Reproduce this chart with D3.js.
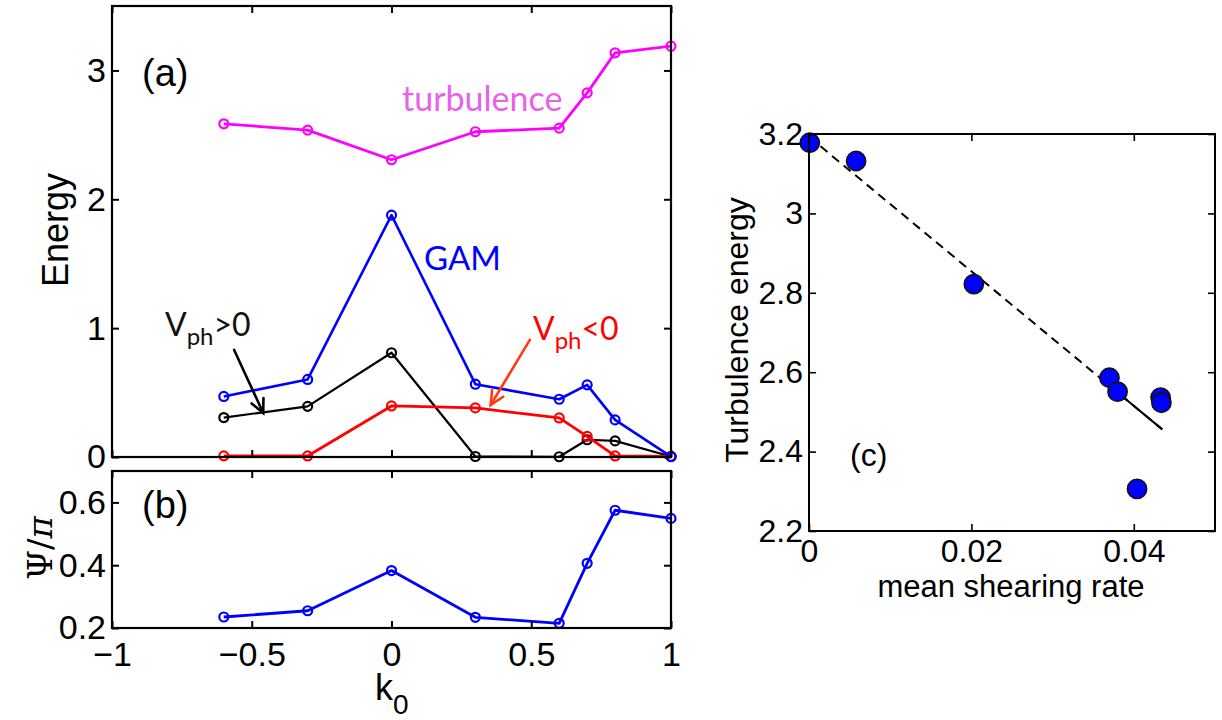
<!DOCTYPE html>
<html>
<head>
<meta charset="utf-8">
<script src="https://cdn.jsdelivr.net/npm/d3@7"></script>
<style>
  html, body { margin: 0; padding: 0; background: #fff; }
  svg { display: block; }
  text { font-family: "Liberation Sans", Arial, sans-serif; }
</style>
</head>
<body>
<svg id="chart" width="1222" height="720"></svg>
<script>
// ---------------- data ----------------
const kVals      = [-0.6, -0.3, 0, 0.3, 0.6, 0.7, 0.8, 1];
const turbulence = [2.586, 2.537, 2.307, 2.524, 2.552, 2.826, 3.137, 3.188];
const gamEnergy  = [0.470, 0.602, 1.877, 0.565, 0.448, 0.560, 0.288, 0.003];
const vphPos     = [0.306, 0.393, 0.809, 0.004, 0.002, 0.134, 0.125, 0.004];
const vphNeg     = [0.009, 0.008, 0.396, 0.381, 0.303, 0.160, 0.008, 0.004];
const psiOverPi  = [0.235, 0.255, 0.383, 0.234, 0.215, 0.406, 0.575, 0.549];

const shearRate  = [0.0370, 0.0433, 0.0404, 0.0434, 0.0380, 0.0203, 0.0058, 0.0001];
const turbEnergy = [2.586, 2.536, 2.306, 2.523, 2.551, 2.822, 3.132, 3.178];
const fitX       = [0, 0.0435];
const fitY       = [3.193, 2.456];
const fitSolidX  = [0.0375, 0.0435];

const xTicksAB   = [-1, -0.5, 0, 0.5, 1];
const yTicksA    = [0, 1, 2, 3];
const yTicksB    = [0.2, 0.4, 0.6];
const xTicksC    = [0, 0.02, 0.04];
const xTickLabelsC = ["0", "0.02", "0.04"];
const yTicksC    = [2.2, 2.4, 2.6, 2.8, 3.0, 3.2];
const yTickLabelsC = ["2.2", "2.4", "2.6", "2.8", "3", "3.2"];

// ---------------- layout ----------------
const svg = d3.select("#chart");
const BLUE = "#0000ff", MAG = "#ff00ff", RED = "#ff0000";

const xA = d3.scaleLinear().domain([-1, 1]).range([112, 671]);
const yA = d3.scaleLinear().domain([0, 3.5]).range([457, 6]);
const yB = d3.scaleLinear().domain([0.2, 0.7]).range([628, 471]);
const xC = d3.scaleLinear().domain([0, 0.05]).range([809, 1215]);
const yC = d3.scaleLinear().domain([2.2, 3.2]).range([531, 134]);

function frame(x, y, sw) {
  const [x0, x1] = x.range(), [y1, y0] = y.range();
  svg.append("rect").attr("x", x0).attr("y", y0)
    .attr("width", x1 - x0).attr("height", y1 - y0)
    .attr("fill", "none").attr("stroke", "#000").attr("stroke-width", sw);
}

function axes(x, y, xt, yt, opts) {
  const [x0, x1] = x.range(), [y1, y0] = y.range();
  const fs = opts.fs;
  const gl = svg.append("g").attr("transform", `translate(${x0},0)`)
    .call(d3.axisLeft(y).tickValues(yt).tickSize(-7).tickPadding(opts.ypad)
      .tickFormat((d, i) => opts.yLabels ? opts.yLabels[i] : opts.yFmt(d)));
  gl.select(".domain").remove();
  gl.selectAll("line").attr("stroke-width", opts.tw);
  gl.selectAll("text").attr("font-size", fs).attr("fill", "#000")
    .attr("font-family", "Liberation Sans, Arial, sans-serif");
  const gr = svg.append("g").attr("transform", `translate(${x1},0)`)
    .call(d3.axisRight(y).tickValues(yt).tickSize(-7).tickFormat(""));
  gr.select(".domain").remove();
  gr.selectAll("line").attr("stroke-width", opts.tw);
  const gb = svg.append("g").attr("transform", `translate(0,${y1})`)
    .call(d3.axisBottom(x).tickValues(xt).tickSize(-7).tickPadding(opts.xpad)
      .tickFormat((d, i) => opts.showX ? (opts.xLabels ? opts.xLabels[i] : opts.xFmt(d)) : ""));
  gb.select(".domain").remove();
  gb.selectAll("line").attr("stroke-width", opts.tw);
  gb.selectAll("text").attr("font-size", fs).attr("fill", "#000")
    .attr("font-family", "Liberation Sans, Arial, sans-serif");
  const gt = svg.append("g").attr("transform", `translate(0,${y0})`)
    .call(d3.axisTop(x).tickValues(xt).tickSize(-7).tickFormat(""));
  gt.select(".domain").remove();
  gt.selectAll("line").attr("stroke-width", opts.tw);
}

function series(x, y, xs, ys, color, lw) {
  const pts = xs.map((v, i) => [v, ys[i]]);
  svg.append("path").datum(pts)
    .attr("d", d3.line().x(d => x(d[0])).y(d => y(d[1])))
    .attr("fill", "none").attr("stroke", color).attr("stroke-width", lw)
    .attr("stroke-linejoin", "round");
  svg.append("g").selectAll("circle").data(pts).join("circle")
    .attr("cx", d => x(d[0])).attr("cy", d => y(d[1])).attr("r", 4.5)
    .attr("fill", "none").attr("stroke", color).attr("stroke-width", 2.2);
}

function arrow(x1, y1, x2, y2, color, lw) {
  const g = svg.append("g").attr("stroke", color).attr("stroke-width", lw)
    .attr("fill", "none").attr("stroke-linecap", "round");
  g.append("line").attr("x1", x1).attr("y1", y1).attr("x2", x2).attr("y2", y2);
  const ang = Math.atan2(y2 - y1, x2 - x1), L = 15, w = 0.45;
  const p1 = [x2 - L * Math.cos(ang - w), y2 - L * Math.sin(ang - w)];
  const p2 = [x2 - L * Math.cos(ang + w), y2 - L * Math.sin(ang + w)];
  g.append("path").attr("d", `M${p1[0]},${p1[1]}L${x2},${y2}L${p2[0]},${p2[1]}`)
    .attr("stroke-linejoin", "miter");
}

// ---------------- panel (a) ----------------
series(xA, yA, kVals, vphPos, "#000", 2.2);
series(xA, yA, kVals, vphNeg, RED, 2.8);
series(xA, yA, kVals, gamEnergy, BLUE, 2.6);
series(xA, yA, kVals, turbulence, MAG, 2.8);
frame(xA, yA, 2.2);
axes(xA, yA, xTicksAB, yTicksA, {fs: 34, tw: 2, ypad: 6, xpad: 0, showX: false,
  yFmt: d3.format("d")});

svg.append("text").attr("x", 142).attr("y", 86).attr("font-size", 38).text("(a)");
svg.append("text").attr("transform", "translate(68,230) rotate(-90)")
  .attr("text-anchor", "middle").attr("font-size", 36).text("Energy");

svg.append("text").attr("x", 402).attr("y", 111).attr("font-size", 34)
  .attr("fill", "#e862e8").style("font-family", "Lato, sans-serif").text("turbulence");
svg.append("text").attr("x", 424).attr("y", 270).attr("font-size", 33)
  .attr("fill", BLUE).style("font-family", "Lato, sans-serif").text("GAM");

const t1 = svg.append("text").attr("x", 165).attr("y", 336).attr("font-size", 32)
  .attr("fill", "#111").style("font-family", "Lato, sans-serif");
t1.append("tspan").text("V");
t1.append("tspan").attr("font-size", 24).attr("dy", 9).text("ph");
t1.append("tspan").attr("dy", -9).text(">0");

const t2 = svg.append("text").attr("x", 533).attr("y", 340).attr("font-size", 32)
  .attr("fill", RED).style("font-family", "Lato, sans-serif");
t2.append("tspan").text("V");
t2.append("tspan").attr("font-size", 24).attr("dy", 9).text("ph");
t2.append("tspan").attr("dy", -9).text("<0");

arrow(xA(-0.563), yA(0.831), xA(-0.459), yA(0.342), "#000", 2.6);
arrow(xA(0.495), yA(0.909), xA(0.355), yA(0.404), "#ff3a10", 2.6);

// ---------------- panel (b) ----------------
series(xA, yB, kVals, psiOverPi, BLUE, 2.8);
frame(xA, yB, 2.2);
axes(xA, yB, xTicksAB, yTicksB, {fs: 34, tw: 2, ypad: 6, xpad: 14, showX: true,
  yFmt: d3.format(".1f"), xFmt: d3.format("")});

svg.append("text").attr("x", 142).attr("y", 518).attr("font-size", 38).text("(b)");
const psi = svg.append("text").attr("transform", "translate(52,548) rotate(-90)")
  .attr("text-anchor", "middle").attr("font-size", 34)
  .style("font-family", "DejaVu Serif, serif");
psi.append("tspan").text("Ψ/");
psi.append("tspan").attr("font-style", "italic").text("π");

const kl = svg.append("text").attr("x", 375).attr("y", 700).attr("font-size", 36);
kl.append("tspan").text("k");
kl.append("tspan").attr("font-size", 28).attr("dy", 14).text("0");

// ---------------- panel (c) ----------------
svg.append("path").datum(fitX.map((v, i) => [v, fitY[i]]))
  .attr("d", d3.line().x(d => xC(d[0])).y(d => yC(d[1])))
  .attr("stroke", "#000").attr("stroke-width", 2).attr("stroke-dasharray", "9,6")
  .attr("fill", "none");
const fitLine = d3.scaleLinear().domain(fitX).range(fitY);
svg.append("path").datum(fitSolidX.map(v => [v, fitLine(v)]))
  .attr("d", d3.line().x(d => xC(d[0])).y(d => yC(d[1])))
  .attr("stroke", "#000").attr("stroke-width", 2).attr("fill", "none");

svg.append("g").selectAll("circle").data(shearRate.map((v, i) => [v, turbEnergy[i]]))
  .join("circle")
  .attr("cx", d => xC(d[0])).attr("cy", d => yC(d[1])).attr("r", 9.6)
  .attr("fill", BLUE).attr("stroke", "#111").attr("stroke-width", 1.6);

frame(xC, yC, 2);
axes(xC, yC, xTicksC, yTicksC, {fs: 32, tw: 1.6, ypad: 6, xpad: 8, showX: true,
  yLabels: yTickLabelsC, xLabels: xTickLabelsC});

svg.append("text").attr("x", 850).attr("y", 466).attr("font-size", 32).text("(c)");
svg.append("text").attr("x", 1011).attr("y", 597).attr("text-anchor", "middle")
  .attr("font-size", 31).text("mean shearing rate");
svg.append("text").attr("transform", "translate(748,330) rotate(-90)")
  .attr("text-anchor", "middle").attr("font-size", 32).text("Turbulence energy");
</script>
</body>
</html>
